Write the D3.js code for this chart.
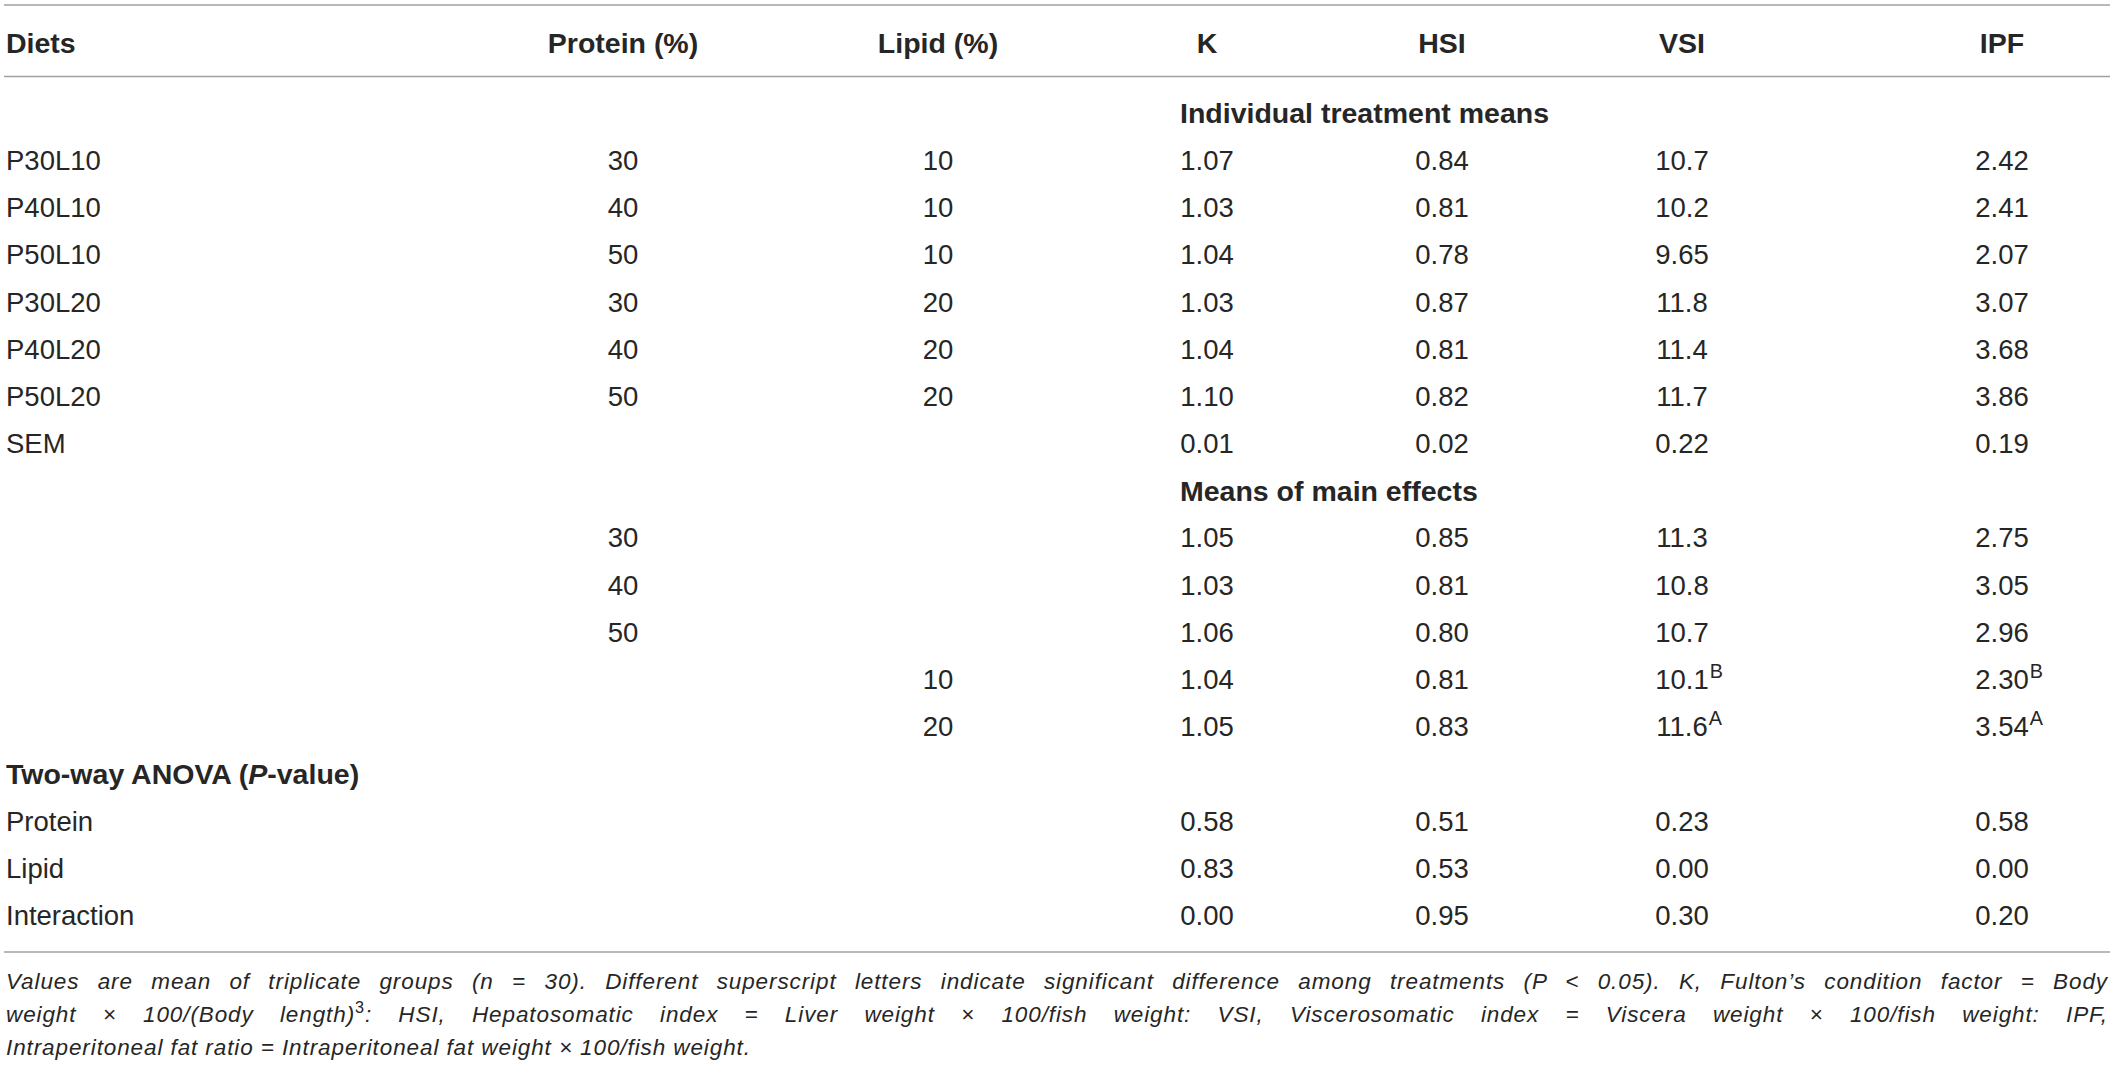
<!DOCTYPE html>
<html>
<head>
<meta charset="utf-8">
<script src="https://cdn.jsdelivr.net/npm/d3@7/dist/d3.min.js"></script>
<style>
  html, body { margin: 0; padding: 0; background: #fff; }
  svg { display: block; }
  text { font-family: "Helvetica Neue", "Liberation Sans", Arial, sans-serif; fill: #262626; }
</style>
</head>
<body>
<svg id="chart" width="2118" height="1076"></svg>
<script>
// ---------- data ----------
const columns = ["Diets", "Protein (%)", "Lipid (%)", "K", "HSI", "VSI", "IPF"];
const diets = ["P30L10", "P40L10", "P50L10", "P30L20", "P40L20", "P50L20"];
const dietProtein = [30, 40, 50, 30, 40, 50];
const dietLipid = [10, 10, 10, 20, 20, 20];
const kVals = [1.07, 1.03, 1.04, 1.03, 1.04, 1.10];
const hsiVals = [0.84, 0.81, 0.78, 0.87, 0.81, 0.82];
const vsiVals = [10.7, 10.2, 9.65, 11.8, 11.4, 11.7];
const ipfVals = [2.42, 2.41, 2.07, 3.07, 3.68, 3.86];
const semVals = [0.01, 0.02, 0.22, 0.19];

const proteinLevels = [30, 40, 50];
const proteinK = [1.05, 1.03, 1.06];
const proteinHSI = [0.85, 0.81, 0.80];
const proteinVSI = [11.3, 10.8, 10.7];
const proteinIPF = [2.75, 3.05, 2.96];

const lipidLevels = [10, 20];
const lipidK = [1.04, 1.05];
const lipidHSI = [0.81, 0.83];
const lipidVSI = [10.1, 11.6];
const lipidVSISup = ["B", "A"];
const lipidIPF = [2.30, 3.54];
const lipidIPFSup = ["B", "A"];

const anovaTerms = ["Protein", "Lipid", "Interaction"];
const anovaK = [0.58, 0.83, 0.00];
const anovaHSI = [0.51, 0.53, 0.95];
const anovaVSI = [0.23, 0.00, 0.30];
const anovaIPF = [0.58, 0.00, 0.20];

const sectionLabels = ["Individual treatment means", "Means of main effects", "Two-way ANOVA (P-value)"];

const footLines = [
  [{t: "Values are mean of triplicate groups (n = 30). Different superscript letters indicate significant difference among treatments (P < 0.05). K, Fulton’s condition factor = Body"}],
  [{t: "weight × 100/(Body length)"}, {t: "3", sup: true}, {t: ": HSI, Hepatosomatic index = Liver weight × 100/fish weight: VSI, Viscerosomatic index = Viscera weight × 100/fish weight: IPF,"}],
  [{t: "Intraperitoneal fat ratio = Intraperitoneal fat weight × 100/fish weight."}]
];

// ---------- formatting ----------
const f2 = d3.format(".2f");
const f3 = d3.format(".3r");
const fmt = [f2, f2, f3, f2];

// ---------- build rows ----------
const rows = [];
rows.push({id: "sec0", section: sectionLabels[0]});
diets.forEach((d, i) => rows.push({id: d, label: d, protein: dietProtein[i], lipid: dietLipid[i],
  vals: [kVals[i], hsiVals[i], vsiVals[i], ipfVals[i]], sups: []}));
rows.push({id: "SEM", label: "SEM", vals: semVals, sups: [], fmts: [f2, f2, f2, f2]});
rows.push({id: "sec1", section: sectionLabels[1]});
proteinLevels.forEach((p, i) => rows.push({id: "p" + p, label: "", protein: p,
  vals: [proteinK[i], proteinHSI[i], proteinVSI[i], proteinIPF[i]], sups: []}));
lipidLevels.forEach((l, i) => rows.push({id: "l" + l, label: "", lipid: l,
  vals: [lipidK[i], lipidHSI[i], lipidVSI[i], lipidIPF[i]], sups: [null, null, lipidVSISup[i], lipidIPFSup[i]]}));
rows.push({id: "sec2", section: sectionLabels[2], leftSection: true});
anovaTerms.forEach((t, i) => rows.push({id: "a" + t, label: t,
  vals: [anovaK[i], anovaHSI[i], anovaVSI[i], anovaIPF[i]], sups: [], fmts: [f2, f2, f2, f2]}));

// ---------- scales ----------
const svg = d3.select("#chart");
const x = d3.scaleOrdinal().domain(columns).range([6, 623, 938, 1207, 1442, 1682, 2002]);
const y = d3.scalePoint().domain(rows.map(r => r.id)).range([113, 915]);
const headerY = 43;
const lineX0 = 4, lineX1 = 2110;
const regSize = 27.5, boldSize = 28.5;

// rules
const rules = [5, 76.5, 952];
svg.selectAll("line.rule").data(rules).join("line")
  .attr("class", "rule")
  .attr("x1", lineX0).attr("x2", lineX1)
  .attr("y1", d => d).attr("y2", d => d)
  .attr("stroke", "#a0a0a0").attr("stroke-width", 1.6);

// header
svg.selectAll("text.hdr").data(columns).join("text")
  .attr("class", "hdr")
  .attr("x", d => x(d))
  .attr("y", headerY)
  .attr("dy", "0.36em")
  .attr("text-anchor", (d, i) => i === 0 ? "start" : "middle")
  .attr("font-weight", "bold")
  .attr("font-size", boldSize)
  .text(d => d);

// rows
const g = svg.selectAll("g.row").data(rows).join("g")
  .attr("class", "row")
  .attr("transform", d => `translate(0,${y(d.id)})`);

// section labels
g.filter(d => d.section).each(function(d) {
  const t = d3.select(this).append("text")
    .attr("x", d.leftSection ? x(columns[0]) : 1180)
    .attr("dy", "0.36em")
    .attr("font-weight", "bold")
    .attr("font-size", boldSize);
  if (d.section.includes("P-value")) {
    t.append("tspan").text("Two-way ANOVA (");
    t.append("tspan").attr("font-style", "italic").text("P");
    t.append("tspan").text("-value)");
  } else {
    t.text(d.section);
  }
});

const dataRows = g.filter(d => !d.section);
dataRows.append("text")
  .attr("x", x(columns[0]))
  .attr("dy", "0.36em")
  .attr("font-size", regSize)
  .text(d => d.label);
dataRows.filter(d => d.protein != null).append("text")
  .attr("x", x(columns[1])).attr("dy", "0.36em").attr("text-anchor", "middle")
  .attr("font-size", regSize).text(d => d.protein);
dataRows.filter(d => d.lipid != null).append("text")
  .attr("x", x(columns[2])).attr("dy", "0.36em").attr("text-anchor", "middle")
  .attr("font-size", regSize).text(d => d.lipid);

dataRows.each(function(d) {
  const sel = d3.select(this);
  d.vals.forEach((v, j) => {
    const f = (d.fmts || fmt)[j];
    const cx = x(columns[3 + j]);
    const t = sel.append("text")
      .attr("x", cx).attr("dy", "0.36em").attr("text-anchor", "middle")
      .attr("font-size", regSize).text(f(v));
    if (d.sups && d.sups[j]) {
      const w = t.node().getComputedTextLength();
      sel.append("text")
        .attr("x", cx + w / 2 + 1).attr("dy", "-0.08em")
        .attr("font-size", regSize * 0.72)
        .text(d.sups[j]);
    }
  });
});

// footnote (first two lines justified)
const footY = [981, 1014, 1047];
const footSize = 22.5;
const footLetter = 0.9;
const footLeft = 6, footRight = 2108;

footLines.forEach((parts, i) => {
  const t = svg.append("text")
    .attr("x", footLeft).attr("y", footY[i]).attr("dy", "0.36em")
    .attr("font-size", footSize).attr("font-style", "italic")
    .attr("letter-spacing", footLetter);
  parts.forEach(p => {
    const ts = t.append("tspan").text(p.t);
    if (p.sup) ts.attr("font-style", "normal").attr("font-size", footSize * 0.72).attr("baseline-shift", "super");
  });
  if (i < footLines.length - 1) {
    const len = t.node().getComputedTextLength();
    const spaces = parts.map(p => p.t).join("").split(" ").length - 1;
    const extra = Math.max(0, (footRight - footLeft - len) / spaces);
    t.attr("word-spacing", extra);
  }
});
</script>
</body>
</html>
